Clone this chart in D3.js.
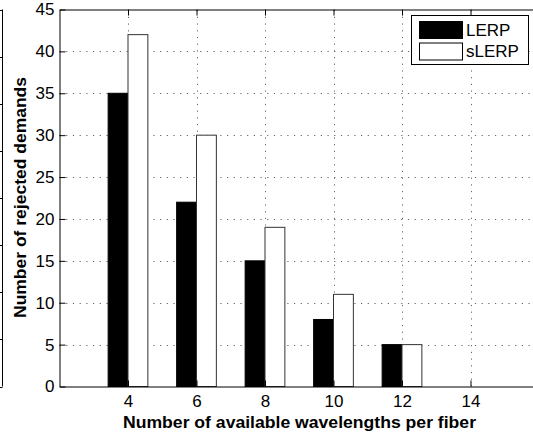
<!DOCTYPE html>
<html>
<head>
<meta charset="utf-8">
<script src="https://cdn.jsdelivr.net/npm/d3@7"></script>
<style>
body { margin: 0; background: #fff; }
svg { display: block; font-family: "Liberation Sans", Arial, sans-serif; }
</style>
</head>
<body>
<div id="chart"></div>
<script>
// wavelengths per fiber, rejected demands
var wavelengths = [4, 6, 8, 10, 12];
var lerp = [35, 22, 15, 8, 5];
var slerp = [42, 30, 19, 11, 5];
var seriesNames = ["LERP", "sLERP"];
var xTicks = [4, 6, 8, 10, 12, 14];
var yTicks = [0, 5, 10, 15, 20, 25, 30, 35, 40, 45];

var width = 533, height = 437;
// note: "top" is taken by window.top, so prefix plot edges
var plotLeft = 59.5, plotTop = 9.5, plotBottom = 386.5, plotRight = 539;

var svg = d3.select("#chart").append("svg")
    .attr("width", width).attr("height", height);

var xScale = d3.scaleLinear().domain([2, 16]).range([plotLeft, plotRight]);
var yScale = d3.scaleLinear().domain([0, 45]).range([plotBottom, plotTop]);
var barW = 0.58; // in x units

// cropped neighbour axis at the far left
var ghost = svg.append("g");
ghost.append("line").attr("x1", 2.5).attr("x2", 2.5).attr("y1", plotTop).attr("y2", plotBottom)
    .attr("stroke", "#000");
ghost.selectAll(".gt").data(d3.range(9)).enter().append("line")
    .attr("x1", 0).attr("x2", 2.5)
    .attr("y1", function(d) { return Math.round(plotBottom - d * (plotBottom - plotTop) / 8) + 0.5; })
    .attr("y2", function(d) { return Math.round(plotBottom - d * (plotBottom - plotTop) / 8) + 0.5; })
    .attr("stroke", "#000");

// grid
var grid = svg.append("g").attr("stroke", "#666").attr("stroke-dasharray", "1.2,5.5");
grid.selectAll(".gx").data(xTicks).enter().append("line")
    .attr("x1", function(d) { return Math.round(xScale(d)) + 0.5; })
    .attr("x2", function(d) { return Math.round(xScale(d)) + 0.5; })
    .attr("y1", plotBottom).attr("y2", plotTop);
grid.selectAll(".gy").data(yTicks.slice(1, -1)).enter().append("line")
    .attr("y1", function(d) { return Math.round(yScale(d)) + 0.5; })
    .attr("y2", function(d) { return Math.round(yScale(d)) + 0.5; })
    .attr("x1", plotLeft).attr("x2", plotRight);

// bars
var bars = svg.append("g");
bars.selectAll(".lerp").data(wavelengths).enter().append("rect")
    .attr("x", function(d) { return xScale(d - barW); })
    .attr("width", function(d) { return xScale(d) - xScale(d - barW); })
    .attr("y", function(d, i) { return yScale(lerp[i]); })
    .attr("height", function(d, i) { return yScale(0) - yScale(lerp[i]); })
    .attr("fill", "#000").attr("stroke", "#000");
bars.selectAll(".slerp").data(wavelengths).enter().append("rect")
    .attr("x", function(d) { return xScale(d); })
    .attr("width", function(d) { return xScale(d + barW) - xScale(d); })
    .attr("y", function(d, i) { return yScale(slerp[i]); })
    .attr("height", function(d, i) { return yScale(0) - yScale(slerp[i]); })
    .attr("fill", "#fff").attr("stroke", "#333");

// axes (inward ticks, MATLAB style)
var xAxis = d3.axisBottom(xScale).tickValues(xTicks).tickSizeInner(-6).tickSizeOuter(0).tickPadding(8);
var yAxis = d3.axisLeft(yScale).tickValues(yTicks).tickSizeInner(-6).tickSizeOuter(0).tickPadding(5);

var gx = svg.append("g").attr("transform", "translate(0," + plotBottom + ")").call(xAxis);
var gy = svg.append("g").attr("transform", "translate(" + plotLeft + ",0)").call(yAxis);
svg.append("g").attr("transform", "translate(0," + plotTop + ")")
    .call(d3.axisTop(xScale).tickValues(xTicks).tickSizeInner(-6).tickSizeOuter(0).tickFormat(""));

[gx, gy].forEach(function(g) {
  g.attr("font-size", 17).attr("font-family", "'Liberation Sans', Arial, sans-serif");
  g.selectAll("text").attr("fill", "#000");
  g.select(".domain").attr("stroke", "#000");
});

// axis titles
svg.append("text").attr("x", 299.5).attr("y", 428)
    .attr("text-anchor", "middle").attr("font-size", 17).attr("font-weight", "bold")
    .attr("textLength", 353).attr("lengthAdjust", "spacingAndGlyphs")
    .text("Number of available wavelengths per fiber");
svg.append("text")
    .attr("transform", "translate(26,197.5) rotate(-90)")
    .attr("text-anchor", "middle").attr("font-size", 16.5).attr("font-weight", "bold")
    .attr("textLength", 241).attr("lengthAdjust", "spacingAndGlyphs")
    .text("Number of rejected demands");

// legend
var legend = svg.append("g");
legend.append("rect").attr("x", 411.5).attr("y", 15.5).attr("width", 117).attr("height", 49)
    .attr("fill", "#fff").attr("stroke", "#000");
var fills = ["#000", "#fff"];
seriesNames.forEach(function(name, i) {
  legend.append("rect").attr("x", 419.5).attr("y", 21.5 + i * 21.5).attr("width", 43).attr("height", 17)
      .attr("fill", fills[i]).attr("stroke", "#000");
  legend.append("text").attr("x", 466).attr("y", 36 + i * 21)
      .attr("font-size", 17).text(name);
});
</script>
</body>
</html>
